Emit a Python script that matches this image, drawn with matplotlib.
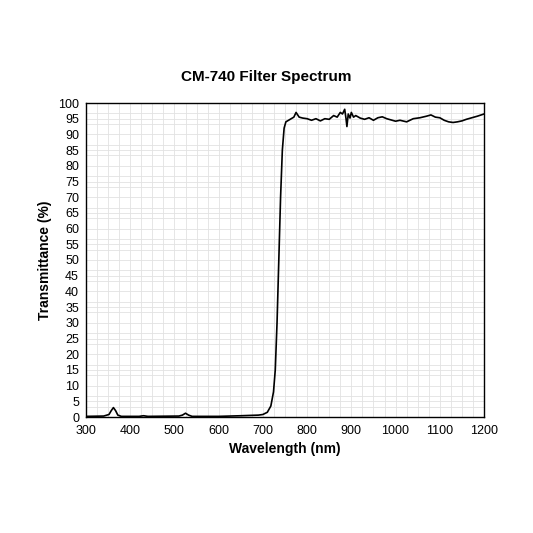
import numpy as np
import matplotlib.pyplot as plt
from matplotlib.ticker import MultipleLocator

plt.rcParams['font.family'] = ['Liberation Sans', 'DejaVu Sans']

# wavelength (nm) and transmittance (%)
wavelength = [300, 340, 352, 357, 362, 367, 372, 380, 420, 430, 440, 510, 518, 525, 532, 540,
              600, 650, 690, 700, 710, 718, 724, 728, 732, 736, 740, 744, 748, 752, 758, 764,
              770, 775, 782, 790, 800, 810, 820, 830, 840, 850, 860, 868, 875, 880, 885, 888,
              890, 893, 897, 900, 905, 910, 920, 930, 940, 950, 960, 970, 980, 990, 1000,
              1010, 1025, 1040, 1055, 1070, 1080, 1090, 1100, 1110, 1120, 1130, 1140, 1150,
              1160, 1170, 1185, 1200]
transmittance = [0.2, 0.3, 0.8, 2.0, 3.0, 2.0, 0.6, 0.2, 0.2, 0.4, 0.2, 0.3, 0.6, 1.2, 0.6, 0.2,
                 0.2, 0.4, 0.6, 0.8, 1.5, 3.5, 8, 15, 30, 50, 70, 85, 92, 94, 94.5, 95,
                 95.5, 97, 95.5, 95.2, 95, 94.5, 95, 94.3, 95, 94.8, 96, 95.5, 97, 96.5, 98, 95,
                 92.5, 96.5, 95.2, 97, 95.5, 96, 95.2, 94.8, 95.3, 94.5, 95.3, 95.6, 95, 94.6, 94.2,
                 94.5, 94.0, 95.0, 95.3, 95.8, 96.2, 95.5, 95.3, 94.5, 94.0, 93.8, 94.0, 94.3,
                 94.8, 95.2, 95.8, 96.5]

fig = plt.figure(figsize=(5.33, 5.33), dpi=100)
ax = fig.add_axes([86/533, 116/533, 398/533, 314/533])

ax.plot(wavelength, transmittance, color='black', linewidth=1.2)

ax.set_xlim(300, 1200)
ax.set_ylim(0, 100)
ax.xaxis.set_major_locator(MultipleLocator(100))
ax.xaxis.set_minor_locator(MultipleLocator(25))
ax.yaxis.set_major_locator(MultipleLocator(5))
ax.yaxis.set_minor_locator(MultipleLocator(10/3))
ax.grid(True, which='both', color='#e2e2e2', linewidth=0.6)
ax.tick_params(which='both', length=0, labelsize=9)
ax.tick_params(axis='x', pad=6)
ax.tick_params(axis='y', pad=5)
for s in ax.spines.values():
    s.set_color('black')
    s.set_linewidth(1.0)

ax.set_xlabel('Wavelength (nm)', fontsize=10, fontweight='bold', labelpad=3)
ax.set_ylabel('Transmittance (%)', fontsize=10, fontweight='bold', labelpad=4)
fig.text(0.5, 456/533, 'CM-740 Filter Spectrum', ha='center', va='center', fontsize=11, fontweight='bold')

plt.savefig('out.png', dpi=100)
